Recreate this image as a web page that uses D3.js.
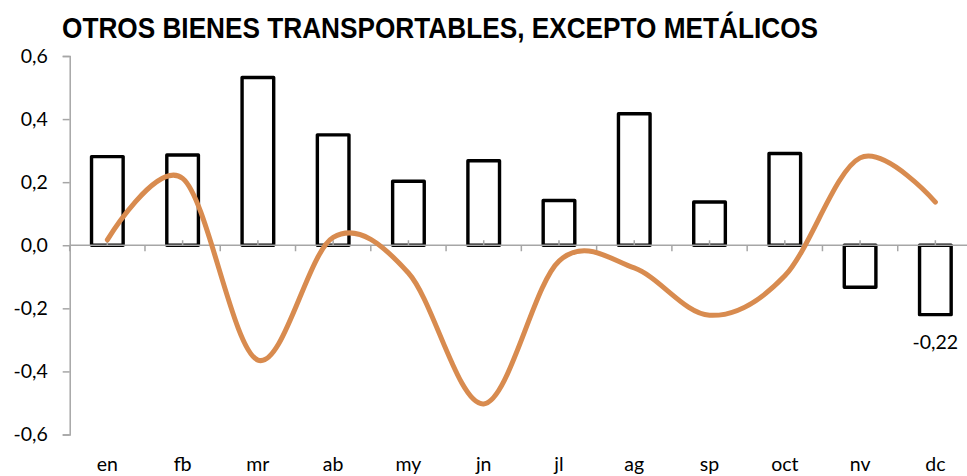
<!DOCTYPE html>
<html>
<head>
<meta charset="utf-8">
<script src="https://cdn.jsdelivr.net/npm/d3@7"></script>
<style>
  body { margin: 0; background: #fff; }
  svg { display: block; }
</style>
</head>
<body>
<svg id="chart"></svg>
<script>
const months = ['en', 'fb', 'mr', 'ab', 'my', 'jn', 'jl', 'ag', 'sp', 'oct', 'nv', 'dc']
const barValues = [0.281, 0.286, 0.532, 0.350, 0.203, 0.268, 0.142, 0.417, 0.137, 0.291, -0.133, -0.22]
const lineValues = [0.017, 0.212, -0.364, 0.025, -0.088, -0.503, -0.05, -0.072, -0.222, -0.097, 0.277, 0.137]
const yTicks = [-0.6, -0.4, -0.2, 0, 0.2, 0.4, 0.6]
const title = 'OTROS BIENES TRANSPORTABLES, EXCEPTO METÁLICOS'

const dimensions = { width: 967, height: 476 }
const fmt = d => d3.format('.1f')(d).replace('.', ',').replace('−', '-')

const svg = d3.select('#chart')
  .attr('width', dimensions.width)
  .attr('height', dimensions.height)

const x = d3.scaleBand()
  .domain(months)
  .range([69.7, 973])
  .paddingInner(0.58)
  .paddingOuter(0.29)

const y = d3.scaleLinear()
  .domain([-0.6, 0.6])
  .range([434.5, 56])

const axisColor = '#a6a6a6'

// title (narrow bold face squeezed to the original width)
svg.append('text')
  .attr('x', 62)
  .attr('y', 38)
  .attr('font-family', '"Liberation Sans Narrow", "Arial Narrow", "Liberation Sans", sans-serif')
  .attr('font-weight', 'bold')
  .attr('font-size', 30)
  .attr('textLength', 756)
  .attr('lengthAdjust', 'spacingAndGlyphs')
  .attr('fill', '#000')
  .text(title)

// y axis
const yAxis = svg.append('g')
  .attr('transform', 'translate(69.7,0)')
  .call(d3.axisLeft(y).tickValues(yTicks).tickFormat(fmt).tickSizeOuter(0).tickSize(7).tickPadding(15))
yAxis.select('.domain').attr('stroke', axisColor).attr('stroke-width', 1.5)
yAxis.selectAll('.tick line').attr('stroke', axisColor).attr('stroke-width', 1.5)
yAxis.selectAll('.tick text')
  .attr('font-family', 'Lato, "Open Sans", sans-serif')
  .attr('font-size', 19.5)
  .attr('fill', '#000')

// bars
svg.selectAll('.bar')
  .data(barValues)
  .enter().append('rect')
  .attr('class', 'bar')
  .attr('x', (d, i) => x(months[i]))
  .attr('width', x.bandwidth())
  .attr('y', d => y(Math.max(0, d)))
  .attr('height', d => Math.abs(y(d) - y(0)))
  .attr('fill', '#fff')
  .attr('stroke', '#000')
  .attr('stroke-width', 3.4)
  .attr('stroke-linejoin', 'round')

// x axis (boundary ticks below, centre ticks above)
const step = x.step()
const x0 = x.range()[0]
const boundaries = d3.range(months.length + 1).map(i => x0 + i * step)

svg.append('line')
  .attr('x1', x0).attr('x2', x.range()[1])
  .attr('y1', y(0)).attr('y2', y(0))
  .attr('stroke', axisColor).attr('stroke-width', 1.5)

svg.selectAll('.btick')
  .data(boundaries)
  .enter().append('line')
  .attr('x1', d => d).attr('x2', d => d)
  .attr('y1', y(0)).attr('y2', y(0) + 6)
  .attr('stroke', axisColor).attr('stroke-width', 1.5)

svg.selectAll('.ctick')
  .data(months)
  .enter().append('line')
  .attr('x1', d => x(d) + x.bandwidth() / 2).attr('x2', d => x(d) + x.bandwidth() / 2)
  .attr('y1', y(0)).attr('y2', y(0) - 5)
  .attr('stroke', axisColor).attr('stroke-width', 1.5)

// month labels
svg.selectAll('.mlabel')
  .data(months)
  .enter().append('text')
  .attr('x', d => x(d) + x.bandwidth() / 2)
  .attr('y', 471)
  .attr('text-anchor', 'middle')
  .attr('font-family', 'Lato, "Open Sans", sans-serif')
  .attr('font-size', 19.5)
  .attr('fill', '#000')
  .text(d => d)

// smoothed line
svg.append('path')
  .datum(lineValues)
  .attr('d', d3.line()
    .x((d, i) => x(months[i]) + x.bandwidth() / 2)
    .y(d => y(d))
    .curve(d3.curveCardinal.tension(0))
  )
  .attr('fill', 'none')
  .attr('stroke', '#d88b4f')
  .attr('stroke-width', 5)
  .attr('stroke-linecap', 'round')

// label for the last bar
const last = barValues.length - 1
svg.append('text')
  .attr('x', x(months[last]) + x.bandwidth() / 2)
  .attr('y', y(barValues[last]) + 34)
  .attr('text-anchor', 'middle')
  .attr('font-family', 'Lato, "Open Sans", sans-serif')
  .attr('font-size', 19.5)
  .attr('fill', '#000')
  .text(d3.format('.2f')(barValues[last]).replace('.', ',').replace('−', '-'))
</script>
</body>
</html>
